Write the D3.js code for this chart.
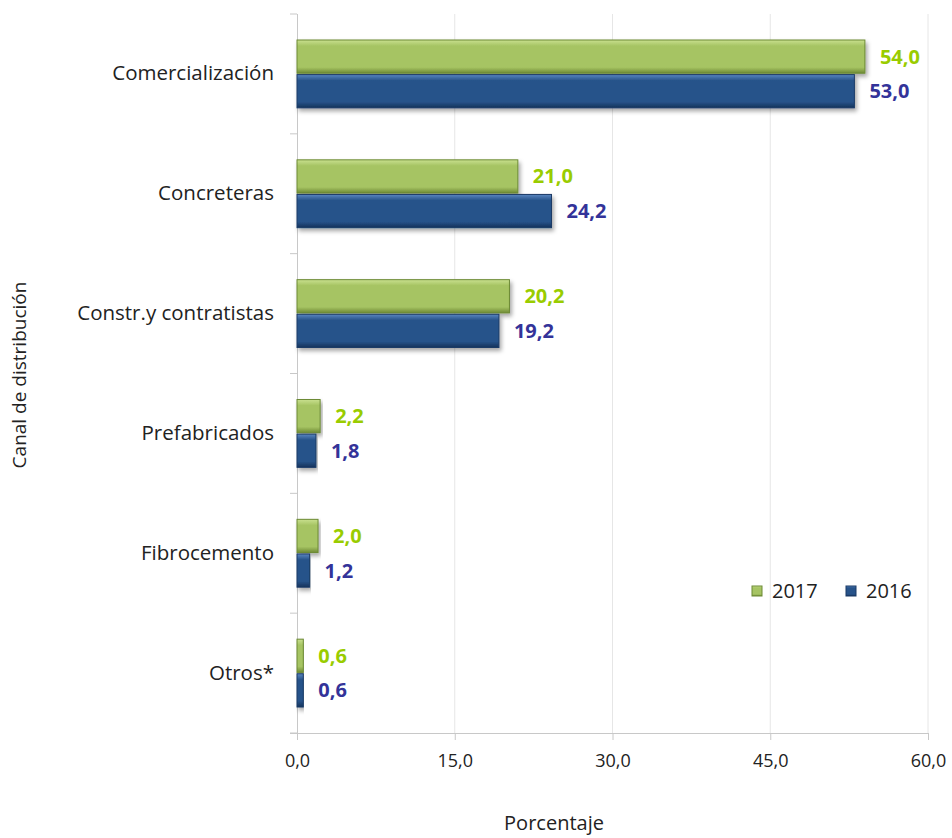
<!DOCTYPE html>
<html><head><meta charset="utf-8">
<script src="https://cdn.jsdelivr.net/npm/d3@7"></script>
<style>body{margin:0;background:#fff;} svg{display:block;font-family:"Open Sans","Noto Sans",sans-serif;}</style>
</head><body>
<svg id="c" width="952" height="838"></svg>
<script>
const categories = ["Comercialización","Concreteras","Constr.y contratistas","Prefabricados","Fibrocemento","Otros*"];
const values2017 = [54.0, 21.0, 20.2, 2.2, 2.0, 0.6];
const values2016 = [53.0, 24.2, 19.2, 1.8, 1.2, 0.6];
const seriesNames = ["2017","2016"];
const xTicks = [0, 15, 30, 45, 60];

const FF = '"Open Sans","Noto Sans",sans-serif';
const svg = d3.select("#c");
const L = 297, R = 928, T = 14, B = 733;
const x = d3.scaleLinear().domain([0, 60]).range([L, R]);
const y = d3.scaleBand().domain(categories).range([T, B]);
const inner = d3.scaleBand().domain(seriesNames).range([26, y.bandwidth() - 26]).paddingInner(0.04);
const fmt = v => d3.format(".1f")(v).replace(".", ",");

const defs = svg.append("defs");
function grad(id, top, mid, bot){
  const g = defs.append("linearGradient").attr("id", id).attr("x1",0).attr("x2",0).attr("y1",0).attr("y2",1);
  g.append("stop").attr("offset","0%").attr("stop-color", top);
  g.append("stop").attr("offset","18%").attr("stop-color", mid);
  g.append("stop").attr("offset","82%").attr("stop-color", mid);
  g.append("stop").attr("offset","100%").attr("stop-color", bot);
}
grad("gGreen", "#c9e08f", "#a6c463", "#6f8a35");
grad("gBlue", "#5a86c0", "#27538a", "#15325a");
const f = defs.append("filter").attr("id","sh").attr("x","-5%").attr("y","-20%").attr("width","115%").attr("height","160%");
f.append("feDropShadow").attr("dx",2).attr("dy",3).attr("stdDeviation",2).attr("flood-color","#000").attr("flood-opacity",0.35);

// gridlines
svg.append("g").selectAll("line").data(xTicks.slice(1)).join("line")
  .attr("x1", d => x(d)).attr("x2", d => x(d)).attr("y1", T).attr("y2", B)
  .attr("stroke", "#e6e6e6").attr("stroke-width", 1);

// x axis
const xa = svg.append("g").attr("transform", `translate(0,${B})`)
  .call(d3.axisBottom(x).tickValues(xTicks).tickFormat(fmt).tickSize(7).tickPadding(14));
xa.attr("font-family", FF);
xa.select(".domain").attr("stroke", "#c8c8c8").attr("d", `M${L-7},0.5H${R}`);
xa.selectAll(".tick line").attr("stroke", "#c8c8c8");
xa.selectAll(".tick text").attr("font-size", 18).attr("fill", "#222");

// y axis
const ya = svg.append("g").attr("transform", `translate(${L},0)`)
  .call(d3.axisLeft(y).tickSize(0).tickPadding(23));
ya.attr("font-family", FF);
ya.select(".domain").attr("stroke", "#c8c8c8").attr("d", `M0.5,${T}V${B}`);
ya.selectAll(".tick text").attr("font-size", 20.5).attr("fill", "#222");
svg.append("g").selectAll("line").data(d3.range(categories.length + 1)).join("line")
  .attr("x1", L - 7).attr("x2", L).attr("y1", i => T + i * y.bandwidth()).attr("y2", i => T + i * y.bandwidth())
  .attr("stroke", "#c8c8c8");

const series = [
  {name: "2017", vals: values2017, fill: "url(#gGreen)", stroke: "#6c8a34", label: "#99cc00"},
  {name: "2016", vals: values2016, fill: "url(#gBlue)", stroke: "#1a3a66", label: "#333399"}
];
series.forEach(s => {
  const g = svg.append("g");
  g.selectAll("rect").data(categories).join("rect")
    .attr("x", x(0)).attr("y", (c) => y(c) + inner(s.name))
    .attr("width", (c, i) => x(s.vals[i]) - x(0)).attr("height", inner.bandwidth())
    .attr("fill", s.fill).attr("stroke", s.stroke).attr("stroke-width", 1).attr("filter", "url(#sh)");
  g.selectAll("text").data(categories).join("text")
    .attr("x", (c, i) => x(s.vals[i]) + 15).attr("y", c => y(c) + inner(s.name) + inner.bandwidth()/2)
    .attr("dy", "0.35em").attr("font-size", 20).attr("font-weight", "bold").attr("fill", s.label)
    .text((c, i) => fmt(s.vals[i]));
});

// legend
const leg = svg.append("g").attr("transform", "translate(752,591)");
const legItems = [{n:"2017", fill:"url(#gGreen)", st:"#6c8a34"},{n:"2016", fill:"url(#gBlue)", st:"#1a3a66"}];
legItems.forEach((d, i) => {
  const gx = i * 94;
  leg.append("rect").attr("x", gx).attr("y", -5).attr("width", 10).attr("height", 10).attr("fill", d.fill).attr("stroke", d.st);
  leg.append("text").attr("x", gx + 20).attr("y", 0).attr("dy", "0.35em").attr("font-size", 20).attr("fill", "#222").text(d.n);
});

// titles
svg.append("text").attr("x", 554).attr("y", 830).attr("text-anchor", "middle").attr("font-size", 20).attr("fill", "#222").text("Porcentaje");
svg.append("text").attr("transform", "translate(26,375) rotate(-90)").attr("text-anchor", "middle").attr("font-size", 19).attr("fill", "#222").text("Canal de distribución");
</script>
</body></html>
